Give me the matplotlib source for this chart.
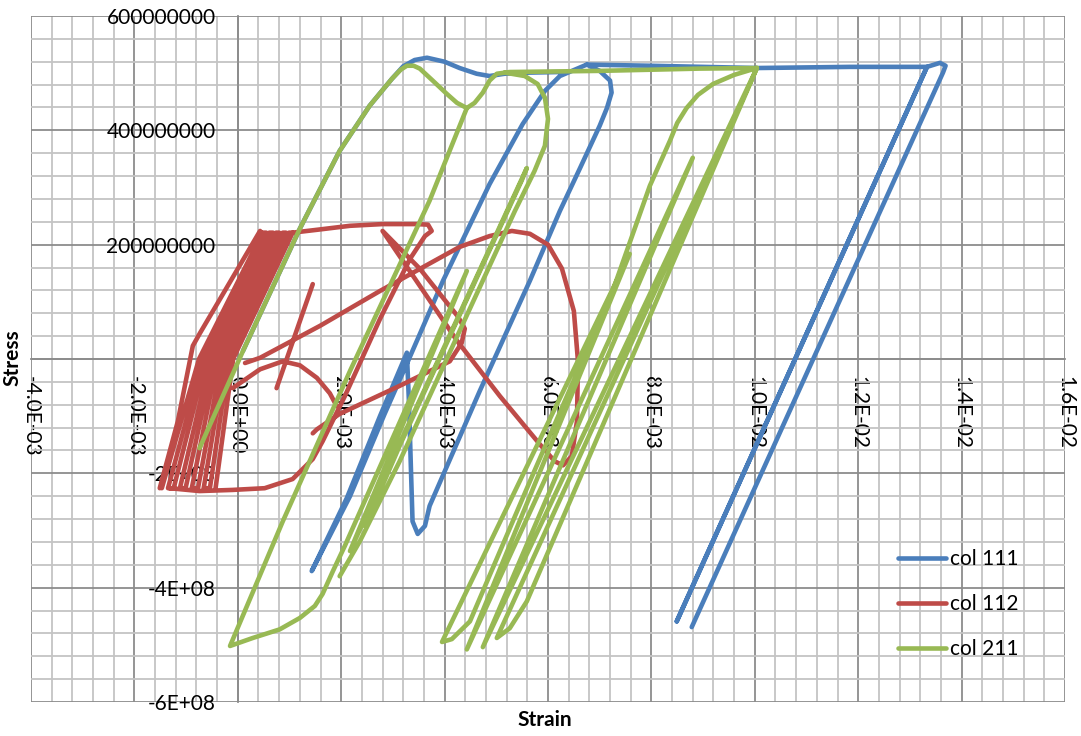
import numpy as np
import matplotlib
matplotlib.use("Agg")
import matplotlib.pyplot as plt
from matplotlib.ticker import MultipleLocator

plt.rcParams['font.family'] = ['Lato', 'DejaVu Sans']

nan = np.nan

# strain in units of 1e-3, stress in MPa; nan breaks the line between branches
col111_strain = [0.10, 1.20, 1.97, 2.55, 2.98, 3.20, 3.42, 3.66, 4.00, 4.29, 4.62, 4.87, 5.16, 5.65, 6.23, nan,
                 6.75, 7.00, 7.20, 7.23, 7.14, 7.00, 6.62, 6.23, 5.65, 4.68,
                 3.71, 3.62, 3.48, 3.38, 3.35, 3.31, 3.27,
                 2.75, 2.11, 1.43, 2.17, 2.84, 3.33,
                 3.97, 4.87, 5.51, 5.94, 6.23, 6.75,
                 7.97, 10.04, 11.84, 13.33,
                 8.49, 13.33, 13.58, 13.69, 13.64, 8.78]
col111_stress = [14, 228, 364, 443, 490, 512, 523, 527, 520, 509, 499, 495, 499, 501, 502, nan,
                 515, 504, 487, 466, 439, 408, 334, 259, 137, -56,
                 -257, -292, -306, -284, -196, -74, 11,
                 -100, -243, -371, -240, -96, 4,
                 137, 306, 411, 469, 495, 515,
                 513, 509, 511, 511,
                 -459, 511, 518, 513, 501, -469]

col112_strain = [-1.51, -1.16, -0.87, -0.74, 0.43, 0.56, nan,
                 -1.47, -0.75, 0.48, 0.55, -0.68, -1.35, -1.24, -0.61, 0.61, 0.68, -0.53, -1.12,
                 -1.01, -0.46, 0.74, 0.80, -0.39, -0.89, -0.77, -0.31, 0.87, 0.93, -0.24, -0.66,
                 -0.54, -0.17, 0.99, 1.06, -0.09, -0.43, nan,
                 -1.32, -0.74, -0.10, 0.52, 1.06, 1.45, 1.64, 2.07, 2.75, 3.33, 3.62, 3.75, 3.68, 3.46,
                 2.80, 2.17, 1.53, 1.06, nan,
                 1.45, 1.53, 1.97, 3.13, 4.10, 4.33, 4.39, 4.26, 3.52, 2.80, 3.52, 4.24, 5.07, 5.84,
                 6.13, 6.29, 6.46, 6.56, 6.58, 6.50, 6.27, 6.00, 5.65, 5.30, 4.87, 4.29, 3.91, 2.75,
                 1.59, 0.43, 0.14, nan,
                 -0.10, 0.43, 0.87, 1.20, 1.53, 1.78, 1.91, nan,
                 1.45, 0.75]
col112_stress = [-226, -109, 23, 44, 224, 210, nan,
                 -226, 0, 221, 221, 0, -226, -226, 0, 221, 221, 0, -226,
                 -226, 0, 221, 221, 0, -226, -226, 0, 221, 221, 0, -226,
                 -226, 0, 221, 221, 0, -226, nan,
                 -226, -231, -229, -226, -210, -175, -144, -65, 70, 175, 215, 224, 235, 236,
                 236, 233, 226, 221, nan,
                 -130, -123, -96, -47, -4, 28, 53, 74, 158, 224, 128, 32, -65, -149,
                 -179, -186, -170, -109, -4, 84, 158, 200, 219, 224, 215, 196, 177, 119,
                 58, 2, -7, nan,
                 -51, -18, -4, -11, -33, -60, -82, nan,
                 131, -51]

col211_strain = [-0.74, 0.10, 1.20, 1.97, 2.55, 2.98, 3.15, 3.27, 3.40, 3.52, 3.77, 4.04, 4.24, 4.43, 4.58,
                 4.74, 4.87, 5.01, 5.26, 7.00, 8.94, 10.04, nan,
                 5.16, 5.55, 5.80, 5.94, 6.00, 5.94, 5.74, 5.36, 4.29, 3.13, 2.36, 1.97, nan,
                 4.43, 3.71, 2.17, 0.87, -0.15, 0.29, 0.81, 1.20, 1.49, 1.64, 1.84, 2.07, 4.43, 2.17,
                 5.59, 5.49, 4.24, 3.13, 2.46, nan,
                 10.04, 9.60, 9.19, 8.90, 8.68, 8.50, 8.36, 7.97, 7.25, 5.65, 4.49, 4.14, 3.95, 7.58,
                 4.43, 8.80, 4.74, 10.04, 5.01, 5.26, 5.59, 10.04]
col211_stress = [-156, 14, 228, 364, 443, 490, 506, 513, 513, 508, 487, 464, 448, 439, 448,
                 466, 487, 499, 502, 504, 508, 509, nan,
                 501, 495, 481, 457, 420, 373, 329, 259, 49, -179, -319, -380, nan,
                 439, 277, -21, -284, -502, -488, -473, -453, -432, -411, -371, -327, 154, -336,
                 334, 312, 67, -152, -292, nan,
                 509, 497, 481, 462, 439, 413, 382, 303, 119, -214, -459, -490, -495, 184,
                 -508, 352, -504, 509, -488, -471, -424, 509]

series = [
    ("col 111", col111_strain, col111_stress, "#4a7ebb"),
    ("col 112", col112_strain, col112_stress, "#be4b48"),
    ("col 211", col211_strain, col211_stress, "#98b954"),
]

x_ticks = [-4e-3, -2e-3, 0, 2e-3, 4e-3, 6e-3, 8e-3, 1e-2, 1.2e-2, 1.4e-2, 1.6e-2]
x_tick_labels = ["-4.0E-03", "-2.0E-03", "0.0E+00", "2.0E-03", "4.0E-03", "6.0E-03",
                 "8.0E-03", "1.0E-02", "1.2E-02", "1.4E-02", "1.6E-02"]
y_ticks = [-6e8, -4e8, -2e8, 0, 2e8, 4e8, 6e8]
y_tick_labels = ["-6E+08", "-4E+08", "-2E+08", "0", "200000000", "400000000", "600000000"]

fig = plt.figure(figsize=(10.81, 7.36), dpi=100)
ax = fig.add_axes([31/1081, 34/736, 1034/1081, 686/736])

for name, sx, sy, c in series:
    ax.plot(np.array(sx) * 1e-3, np.array(sy) * 1e6, color=c, lw=3.3, label=name,
            solid_joinstyle='round', solid_capstyle='round', zorder=3)

ax.set_xlim(-4e-3, 1.6e-2)
ax.set_ylim(-6e8, 6e8)
ax.set_xticks(x_ticks, x_tick_labels)
ax.set_yticks(y_ticks, y_tick_labels)
ax.xaxis.set_minor_locator(MultipleLocator(4e-4))
ax.yaxis.set_minor_locator(MultipleLocator(4e7))
ax.grid(which='minor', color='#c4c4c4', lw=1.3)
ax.grid(which='major', color='#8c8c8c', lw=1.3)
ax.set_axisbelow(True)

for s in ['top', 'right']:
    ax.spines[s].set_visible(False)
for s in ['left', 'bottom']:
    ax.spines[s].set_position(('data', 0))
    ax.spines[s].set_color('#8c8c8c')
    ax.spines[s].set_linewidth(1.3)

ax.tick_params(which='both', length=0)
ax.tick_params(axis='x', labelrotation=270, pad=12, labelsize=15)
ax.tick_params(axis='y', pad=16, labelsize=15)

fig.text(12/1081, 1 - 358/736, "Stress", rotation=90, ha='center', va='center',
         fontsize=15, fontweight='bold')
fig.text(545/1081, 1 - 720/736, "Strain", ha='center', va='center',
         fontsize=15, fontweight='bold')

ax.legend(loc='upper left', bbox_to_anchor=(898/1081, 1 - 549/736), bbox_transform=fig.transFigure,
          frameon=False, fontsize=15, handlelength=2.3, handletextpad=0.2, labelspacing=1.2,
          borderpad=0, borderaxespad=0)

fig.savefig("out.png", dpi=100)
